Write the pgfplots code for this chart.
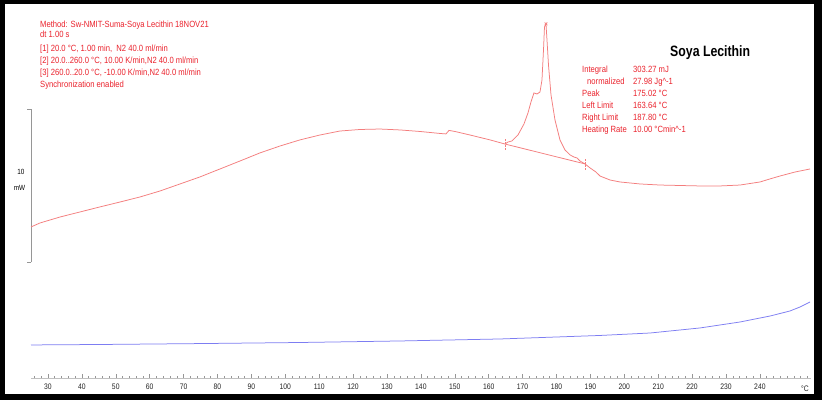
\documentclass[border=0pt]{standalone}
\usepackage{pgfplots}
\pgfplotsset{compat=1.18}
\usepackage{fontspec}
\setmainfont{Liberation Sans}
\newfontfamily\condfont[FakeStretch=0.85]{Liberation Sans}
\newfontfamily\titlefont[FakeStretch=0.82]{Liberation Sans Bold}
\definecolor{txtred}{RGB}{235,35,45}
\definecolor{curvered}{RGB}{244,125,125}
\definecolor{curveblue}{RGB}{125,125,242}
\definecolor{tickgray}{RGB}{150,150,150}
\begin{document}
\begin{tikzpicture}[x=1pt,y=1pt]
\useasboundingbox (0,0) rectangle (822,400);
\fill[black] (0,0) rectangle (822,400);
\fill[white] (5,6) rectangle (814,396);
\begin{axis}[
  at={(31pt,22pt)}, anchor=south west,
  scale only axis, width=779.75pt, height=374pt,
  xmin=25, xmax=255, ymin=0, ymax=24.44,
  axis x line*=bottom, axis y line=none,
  xtick={30,40,...,240},
  minor xtick={26,28,...,254},
  tick align=inside,
  major tick length=4pt, minor tick length=2.2pt,
  every tick/.style={tickgray, line width=0.5pt},
  x axis line style={tickgray!60, line width=0.4pt},
  xticklabel style={font=\condfont\fontsize{8}{9}\selectfont, text=black!85, yshift=-2.5pt},
  /pgf/number format/assume math mode=true,
  clip=false,
]
% 10 mW scale bar
\draw[tickgray, line width=0.6pt] (axis cs:25,7.58) -- (axis cs:25,17.58);
\draw[tickgray, line width=0.6pt] (axis cs:25,7.58) -- ++(-4pt,0pt);
\draw[tickgray, line width=0.6pt] (axis cs:25,17.58) -- ++(-4pt,0pt);
% heating curve
\addplot[curvered, line width=0.75pt] coordinates {
(25.00,9.87) (27.64,10.13) (33.54,10.52) (39.44,10.85) (45.34,11.18)
(51.24,11.50) (57.14,11.83) (63.04,12.22) (68.94,12.68) (74.84,13.14)
(80.74,13.66) (86.64,14.18) (92.54,14.71) (98.44,15.16) (104.34,15.56)
(110.24,15.88) (116.14,16.14) (122.04,16.24) (127.94,16.27) (133.83,16.21)
(139.73,16.11) (145.63,15.98) (147.40,15.95) (148.29,16.18) (150.06,16.11)
(154.48,15.88) (160.38,15.56) (164.81,15.29) (165.69,15.42) (166.87,15.49)
(168.64,15.88) (170.41,16.60) (171.59,17.32) (172.48,18.04) (173.36,18.63)
(174.25,18.56) (175.13,18.69) (175.72,19.48) (176.17,21.44) (176.46,22.94)
(176.90,23.14) (177.20,22.09) (177.64,20.46) (178.38,18.50) (179.56,16.86)
(181.03,15.56) (182.51,14.90) (183.98,14.58) (185.16,14.44) (186.05,14.38)
(186.93,14.18) (188.41,13.99) (189.88,13.73) (191.65,13.46) (192.83,13.20)
(195.78,12.94) (198.73,12.81) (204.63,12.68) (210.53,12.61) (216.43,12.58)
(222.33,12.55) (228.23,12.55) (234.13,12.61) (240.03,12.81) (242.98,13.01)
(245.93,13.20) (250.35,13.46) (254.78,13.66)
};
% integration baseline
\addplot[curvered, line width=0.75pt] coordinates {(164.81,15.29) (188.41,13.99)};
% limit markers
\addplot[curvered, line width=0.8pt, dash pattern=on 1.5pt off 1.5pt] coordinates {(164.81,14.90) (164.81,15.68)};
\addplot[curvered, line width=0.8pt, dash pattern=on 1.5pt off 1.5pt] coordinates {(188.41,13.60) (188.41,14.38)};
% peak marker
\addplot[curvered, only marks, mark=x, mark size=2pt, mark options={line width=0.6pt}] coordinates {(176.90,23.14)};
% cooling / blue curve
\addplot[curveblue, line width=0.75pt] coordinates {
(25.00,2.16) (45.34,2.19) (74.84,2.25) (104.34,2.32) (133.83,2.42)
(163.33,2.55) (192.83,2.78) (207.58,2.94) (222.33,3.27) (234.13,3.66)
(242.98,4.05) (248.88,4.38) (251.83,4.64) (254.78,4.97)
};
\end{axis}
% texts
\begin{scope}[every node/.style={inner sep=0pt}]
\node[anchor=center, font=\condfont\fontsize{7.5}{8}\selectfont] at (21,228) {10};
\node[anchor=center, font=\condfont\fontsize{7.5}{8}\selectfont] at (19.5,212) {mW};
\node[anchor=center, font=\condfont\fontsize{8}{9}\selectfont, text=black!85] at (805,11) {°C};
\begin{scope}[every node/.append style={anchor=mid west, text=txtred, font=\condfont\fontsize{9}{10}\selectfont}]
\node at (40,375) {Method: Sw-NMIT-Suma-Soya Lecithin 18NOV21};
\node at (40,365) {dt 1.00 s};
\node at (40,351) {[1] 20.0 °C, 1.00 min,\ \ N2 40.0 ml/min};
\node at (40,339) {[2] 20.0..260.0 °C, 10.00 K/min,N2 40.0 ml/min};
\node at (40,327) {[3] 260.0..20.0 °C, -10.00 K/min,N2 40.0 ml/min};
\node at (40,315) {Synchronization enabled};
\node at (582,330) {Integral};
\node at (587,318) {normalized};
\node at (582,306) {Peak};
\node at (582,294) {Left Limit};
\node at (582,282) {Right Limit};
\node at (582,270) {Heating Rate};
\node at (633,330) {303.27 mJ};
\node at (633,318) {27.98 Jg\textasciicircum-1};
\node at (633,306) {175.02 °C};
\node at (633,294) {163.64 °C};
\node at (633,282) {187.80 °C};
\node at (633,270) {10.00 °Cmin\textasciicircum-1};
\end{scope}
\node[anchor=west, font=\titlefont\fontsize{15}{16}\selectfont] at (670,347) {Soya Lecithin};
\end{scope}
\end{tikzpicture}
\end{document}
